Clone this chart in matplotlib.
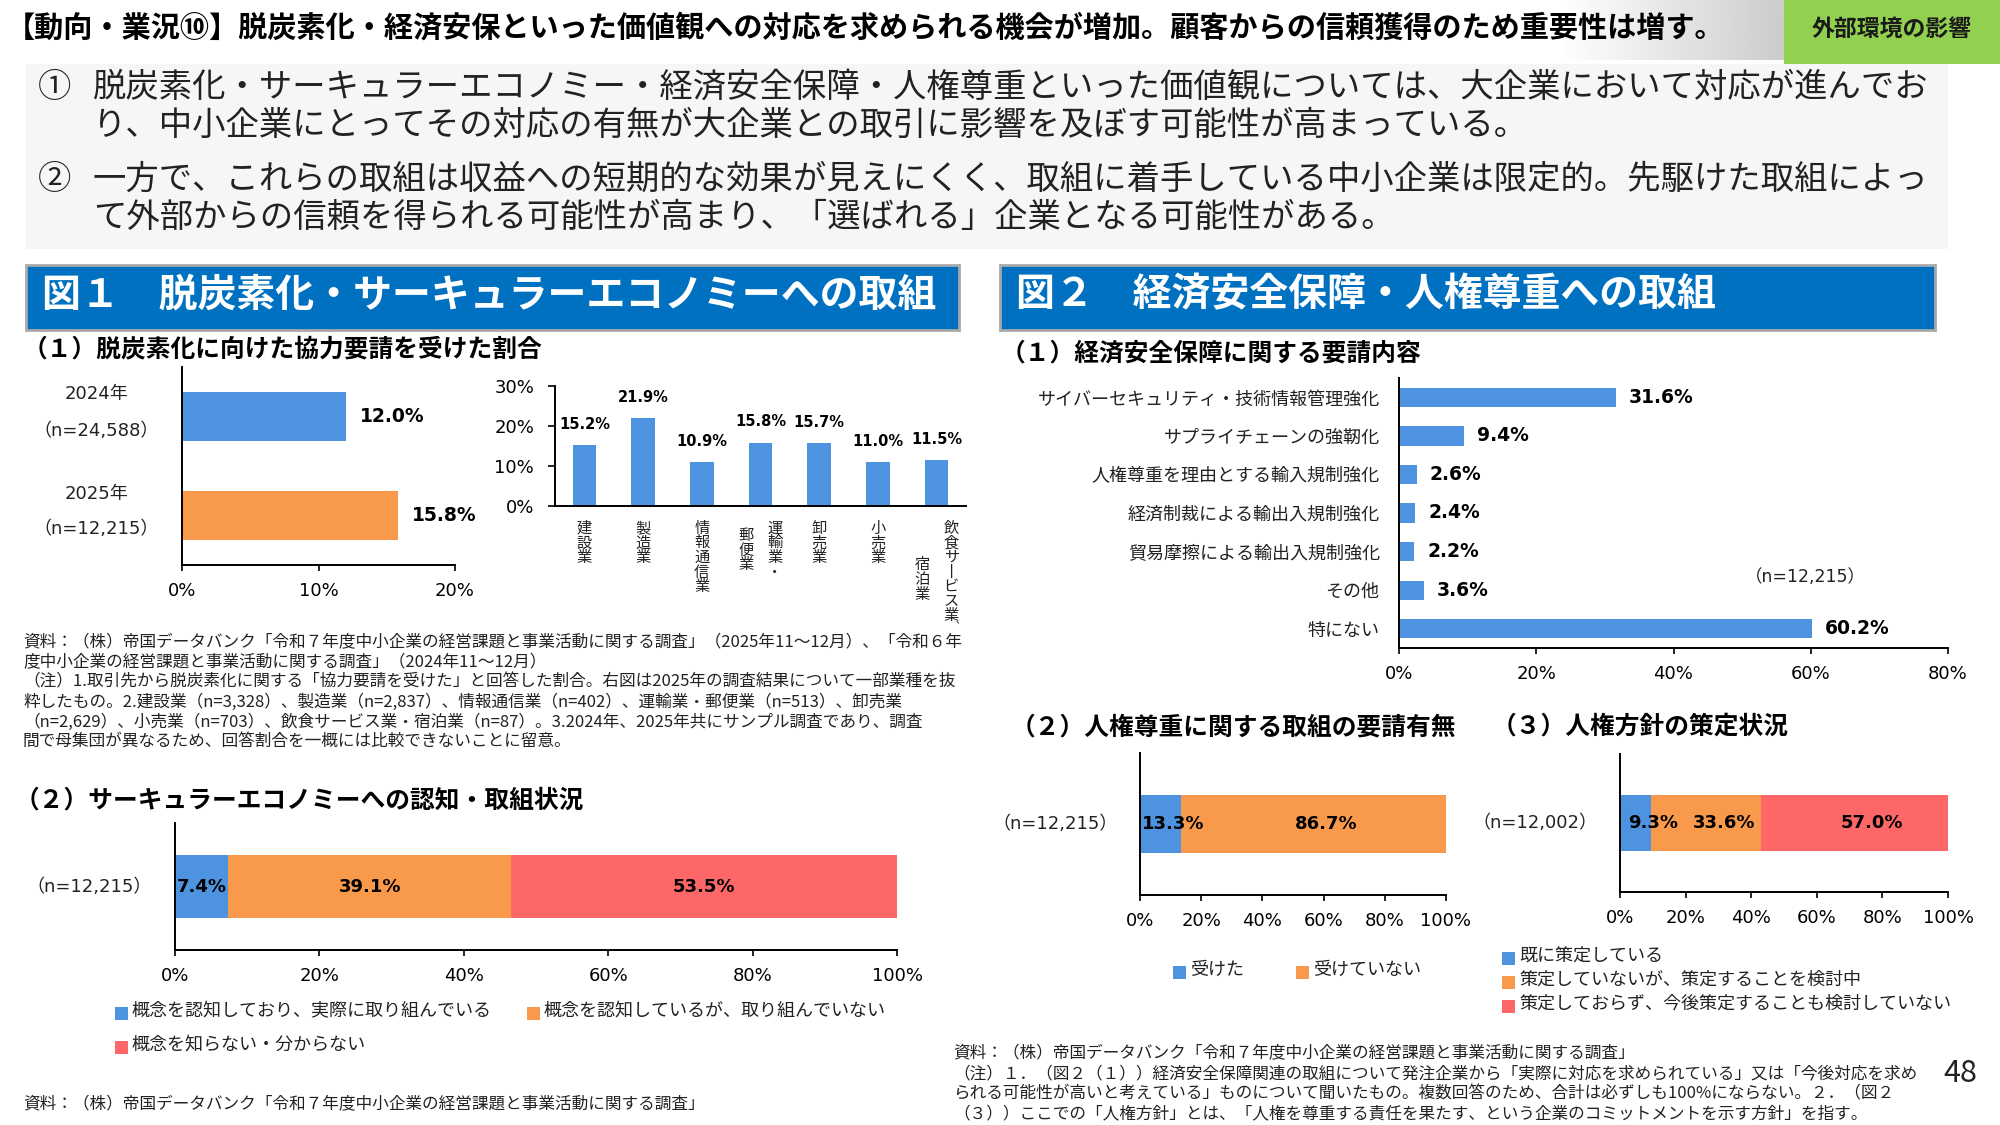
import matplotlib
matplotlib.use('Agg')
import matplotlib.pyplot as plt
from matplotlib.patches import Rectangle
import numpy as np

plt.rcParams['font.family'] = ['Noto Sans CJK JP', 'DejaVu Sans']

# --------------------------------------------------------------------------
# Data
# --------------------------------------------------------------------------
page_title = ('【動向・業況⑩】脱炭素化・経済安保といった価値観への対応を求められる機会が増加。'
              '顧客からの信頼獲得のため重要性は増す。')
tag_label = '外部環境の影響'
summary_lines = [
    ('①', '脱炭素化・サーキュラーエコノミー・経済安全保障・人権尊重といった価値観については、大企業において対応が進んでお'),
    ('', 'り、中小企業にとってその対応の有無が大企業との取引に影響を及ぼす可能性が高まっている。'),
    ('②', '一方で、これらの取組は収益への短期的な効果が見えにくく、取組に着手している中小企業は限定的。先駆けた取組によっ'),
    ('', 'て外部からの信頼を得られる可能性が高まり、「選ばれる」企業となる可能性がある。'),
]

decarb_years = ['2024年', '2025年']
decarb_n = ['（n=24,588）', '（n=12,215）']
decarb_share = [12.0, 15.8]
decarb_ticks = [0, 10, 20]

# vertical labels, one list entry per text column (right to left)
industries = [['建設業'], ['製造業'], ['情報通信業'], ['運輸業・', '郵便業'],
              ['卸売業'], ['小売業'], ['飲食サービス業、', '宿泊業']]
industry_share = [15.2, 21.9, 10.9, 15.8, 15.7, 11.0, 11.5]
industry_ticks = [0, 10, 20, 30]

fig1_notes = [
    '資料：（株）帝国データバンク「令和７年度中小企業の経営課題と事業活動に関する調査」（2025年11～12月）、「令和６年',
    '度中小企業の経営課題と事業活動に関する調査」（2024年11～12月）',
    '（注）1.取引先から脱炭素化に関する「協力要請を受けた」と回答した割合。右図は2025年の調査結果について一部業種を抜',
    '粋したもの。2.建設業（n=3,328）、製造業（n=2,837）、情報通信業（n=402）、運輸業・郵便業（n=513）、卸売業',
    '（n=2,629）、小売業（n=703）、飲食サービス業・宿泊業（n=87）。3.2024年、2025年共にサンプル調査であり、調査',
    '間で母集団が異なるため、回答割合を一概には比較できないことに留意。',
]

circular_labels = ['概念を認知しており、実際に取り組んでいる',
                   '概念を認知しているが、取り組んでいない',
                   '概念を知らない・分からない']
circular_share = [7.4, 39.1, 53.5]
circular_n = '（n=12,215）'

security_items = ['サイバーセキュリティ・技術情報管理強化', 'サプライチェーンの強靭化',
                  '人権尊重を理由とする輸入規制強化', '経済制裁による輸出入規制強化',
                  '貿易摩擦による輸出入規制強化', 'その他', '特にない']
security_share = [31.6, 9.4, 2.6, 2.4, 2.2, 3.6, 60.2]
security_ticks = [0, 20, 40, 60, 80]
security_n = '（n=12,215）'

hr_request_labels = ['受けた', '受けていない']
hr_request_share = [13.3, 86.7]
hr_request_n = '（n=12,215）'

hr_policy_labels = ['既に策定している', '策定していないが、策定することを検討中',
                    '策定しておらず、今後策定することも検討していない']
hr_policy_share = [9.3, 33.6, 57.0]
hr_policy_n = '（n=12,002）'

pct_ticks = [0, 20, 40, 60, 80, 100]

source_short = '資料：（株）帝国データバンク「令和７年度中小企業の経営課題と事業活動に関する調査」'
fig2_notes = [
    source_short,
    '（注）１．（図２（１））経済安全保障関連の取組について発注企業から「実際に対応を求められている」又は「今後対応を求め',
    'られる可能性が高いと考えている」ものについて聞いたもの。複数回答のため、合計は必ずしも100%にならない。２．（図２',
    '（３））ここでの「人権方針」とは、「人権を尊重する責任を果たす、という企業のコミットメントを示す方針」を指す。',
]

# --------------------------------------------------------------------------
# Style
# --------------------------------------------------------------------------
W, H = 2000, 1125
PT = 0.72  # points per pixel at dpi 100
NUM = ['DejaVu Sans', 'Noto Sans CJK JP']
JP = ['Noto Sans CJK JP', 'DejaVu Sans']
BLUE = '#4D93E0'
ORANGE = '#F9994B'
RED = '#FE6767'
HEAD_BLUE = '#0070C0'
TXT = '#222222'
VERT = {'ー': '丨', '、': '︑'}
SUB_FS = 17.8

fig = plt.figure(figsize=(20, 11.25), dpi=100)


def ftext(x, y, s, **kw):
    kw.setdefault('va', 'center')
    return fig.text(x / W, 1 - y / H, s, **kw)


def frect(x0, y0, x1, y1, **kw):
    fig.patches.append(Rectangle((x0 / W, 1 - y1 / H), (x1 - x0) / W, (y1 - y0) / H,
                                 transform=fig.transFigure, **kw))


def add_ax(x0, y0, x1, y1):
    ax = fig.add_axes([x0 / W, 1 - y1 / H, (x1 - x0) / W, (y1 - y0) / H])
    ax.set_facecolor('none')
    for s in ['top', 'right']:
        ax.spines[s].set_visible(False)
    for s in ['left', 'bottom']:
        ax.spines[s].set_linewidth(1.4)
        ax.spines[s].set_color('black')
    return ax


def pct_axis_x(ax, ticks):
    ax.set_xticks(ticks)
    ax.set_xticklabels([f'{t}%' for t in ticks])
    ax.tick_params(axis='x', length=4, width=1.2, pad=8, labelsize=13,
                   labelfontfamily=NUM, colors='black')


def stacked(ax, shares, colors, height, label_dx=0):
    left = np.concatenate([[0], np.cumsum(shares)[:-1]])
    ax.barh(0, shares, left=left, height=height, color=colors)
    for l, v in zip(left, shares):
        ax.annotate(f'{v:.1f}%', xy=(l + v / 2, 0), xytext=(label_dx * PT, 0),
                    textcoords='offset points', ha='center', va='center', fontsize=13,
                    fontweight='bold', family=NUM, color='black')
    ax.set_xlim(0, 100)
    ax.set_ylim(-1, 1)
    ax.set_yticks([])
    pct_axis_x(ax, pct_ticks)


def n_label(ax, s, dx_px):
    ax.annotate(s, xy=(0, 0), xycoords=('axes fraction', 'data'),
                xytext=(dx_px * PT, 0), textcoords='offset points',
                ha='center', va='center', fontsize=13, family=NUM, color=TXT)


def legend_item(x, y, color, s):
    frect(x, y - 3, x + 13, y + 10, facecolor=color, edgecolor='none')
    ftext(x + 17, y + 1, s, fontsize=13, color=TXT)


# --------------------------------------------------------------------------
# Header and summary
# --------------------------------------------------------------------------
ftext(6, 28, page_title, fontsize=21, fontweight='bold', color='black')

grad_ax = fig.add_axes([1560 / W, 1 - 60 / H, (1784 - 1560) / W, 60 / H])
grad = np.linspace(1.0, 0.80, 256).reshape(1, -1)
grad_ax.imshow(grad, aspect='auto', cmap='gray', vmin=0, vmax=1)
grad_ax.axis('off')

frect(1784, 0, 2000, 64, facecolor='#92D050', edgecolor='none')
ftext(1892, 29, tag_label, fontsize=16.5, fontweight='bold', ha='center', color='#1a1a1a')

frect(26, 64, 1948, 249, facecolor='#F5F6F7', edgecolor='none')
for (num, line), y in zip(summary_lines, [87, 125, 179, 217]):
    if num:
        ftext(38, y, num, fontsize=24, color=TXT)
    ftext(93, y, line, fontsize=24, color=TXT)

# --------------------------------------------------------------------------
# Figure 1 panel
# --------------------------------------------------------------------------
frect(26, 265, 959, 330, facecolor=HEAD_BLUE, edgecolor='#A9A9A9', linewidth=2)
ftext(42, 295, '図１　脱炭素化・サーキュラーエコノミーへの取組', fontsize=28,
      fontweight='bold', color='white')
ftext(23, 349, '（１）脱炭素化に向けた協力要請を受けた割合', fontsize=SUB_FS, fontweight='bold',
      color='black')

ax1 = add_ax(182, 367, 455, 565)
ax1.barh(range(len(decarb_share)), decarb_share, height=0.5, color=[BLUE, ORANGE])
ax1.set_xlim(0, 20)
ax1.set_ylim(1.5, -0.5)
ax1.set_yticks([])
pct_axis_x(ax1, decarb_ticks)
for i, (v, yr, n) in enumerate(zip(decarb_share, decarb_years, decarb_n)):
    ax1.annotate(f'{v:.1f}%', xy=(v, i), xytext=(14 * PT, 0), textcoords='offset points',
                 ha='left', va='center', fontsize=13.5, fontweight='bold', family=NUM)
    ax1.annotate(yr, xy=(0, i), xycoords=('axes fraction', 'data'),
                 xytext=(-86 * PT, 22 * PT), textcoords='offset points',
                 ha='center', va='center', fontsize=13, family=NUM, color=TXT)
    ax1.annotate(n, xy=(0, i), xycoords=('axes fraction', 'data'),
                 xytext=(-86 * PT, -14 * PT), textcoords='offset points',
                 ha='center', va='center', fontsize=13, family=NUM, color=TXT)

ax2 = add_ax(555, 386, 966, 506)
ax2.bar(range(len(industry_share)), industry_share, width=0.4, color=BLUE)
ax2.set_xlim(-0.5, len(industry_share) - 0.5)
ax2.set_ylim(0, 30)
ax2.set_xticks([])
ax2.set_yticks(industry_ticks)
ax2.set_yticklabels([f'{t}%' for t in industry_ticks])
ax2.tick_params(axis='y', length=5, width=1.2, pad=10, labelsize=13, labelfontfamily=NUM)
for i, v in enumerate(industry_share):
    ax2.annotate(f'{v:.1f}%', xy=(i, v), xytext=(0, 21 * PT), textcoords='offset points',
                 ha='center', va='center', fontsize=10.5, fontweight='bold', family=NUM)

# vertical (tategaki) category labels
pitch, col_gap = 14.6, 29
for i, cols in enumerate(industries):
    maxlen = max(len(c) for c in cols)
    for j, col in enumerate(cols):
        dx = ((len(cols) - 1) / 2 - j) * col_gap
        start = (maxlen - len(col)) / 2
        for k, ch in enumerate(col):
            dy = -(15 + pitch / 2 + (start + k) * pitch)
            fs = 11
            if ch == '、':
                # small vertical comma, tucked up under the previous glyph
                fs, dy, dx_c = 7, dy + 5, dx + 3
            else:
                dx_c = dx
            ax2.annotate(VERT.get(ch, ch), xy=(i, 0), xycoords=('data', 'axes fraction'),
                         xytext=(dx_c * PT, dy * PT), textcoords='offset points',
                         ha='center', va='center', fontsize=fs, color=TXT,
                         annotation_clip=False)

for k, line in enumerate(fig1_notes):
    ftext(23, 643 + 19.7 * k, line, fontsize=12, color=TXT)

ftext(15, 801, '（２）サーキュラーエコノミーへの認知・取組状況', fontsize=SUB_FS, fontweight='bold',
      color='black')
ax3 = add_ax(175, 823, 897, 950)
stacked(ax3, circular_share, [BLUE, ORANGE, RED], 1.0)
n_label(ax3, circular_n, -86)
legend_item(115, 1010, BLUE, circular_labels[0])
legend_item(527, 1010, ORANGE, circular_labels[1])
legend_item(115, 1044, RED, circular_labels[2])

ftext(23, 1105, source_short, fontsize=12, color=TXT)

# --------------------------------------------------------------------------
# Figure 2 panel
# --------------------------------------------------------------------------
frect(1000, 265, 1935, 330, facecolor=HEAD_BLUE, edgecolor='#A9A9A9', linewidth=2)
ftext(1016, 295, '図２　経済安全保障・人権尊重への取組', fontsize=28, fontweight='bold',
      color='white')
ftext(1001, 353, '（１）経済安全保障に関する要請内容', fontsize=SUB_FS, fontweight='bold',
      color='black')

ax4 = add_ax(1399, 378, 1948, 648)
ax4.barh(range(len(security_share)), security_share, height=0.5, color=BLUE)
ax4.set_xlim(0, 80)
ax4.set_ylim(len(security_share) - 0.5, -0.5)
ax4.set_yticks(range(len(security_items)))
ax4.set_yticklabels(security_items)
ax4.tick_params(axis='y', length=0, pad=14, labelsize=13, labelcolor=TXT)
pct_axis_x(ax4, security_ticks)
for i, v in enumerate(security_share):
    ax4.annotate(f'{v:.1f}%', xy=(v, i), xytext=(13 * PT, 0), textcoords='offset points',
                 ha='left', va='center', fontsize=13.5, fontweight='bold', family=NUM)
ftext(1805, 577, security_n, fontsize=12.5, family=NUM, ha='center', color=TXT)

ftext(1011, 727, '（２）人権尊重に関する取組の要請有無', fontsize=SUB_FS, fontweight='bold',
      color='black')
ftext(1492, 727, '（３）人権方針の策定状況', fontsize=SUB_FS, fontweight='bold', color='black')

ax5 = add_ax(1140, 753, 1446, 895)
stacked(ax5, hr_request_share, [BLUE, ORANGE], 0.82, label_dx=13)
n_label(ax5, hr_request_n, -85)
legend_item(1173, 969, BLUE, hr_request_labels[0])
legend_item(1296, 969, ORANGE, hr_request_labels[1])

ax6 = add_ax(1620, 754, 1948, 892)
stacked(ax6, hr_policy_share, [BLUE, ORANGE, RED], 0.8, label_dx=18)
n_label(ax6, hr_policy_n, -85)
for (lab, col), y in zip(zip(hr_policy_labels, [BLUE, ORANGE, RED]), [955, 979, 1003]):
    legend_item(1502, y, col, lab)

for k, line in enumerate(fig2_notes):
    ftext(953, 1054 + 20 * k, line, fontsize=12, color=TXT)

ftext(1960, 1073, '48', fontsize=22, ha='center', color=TXT)

fig.savefig('out.png', dpi=100)
